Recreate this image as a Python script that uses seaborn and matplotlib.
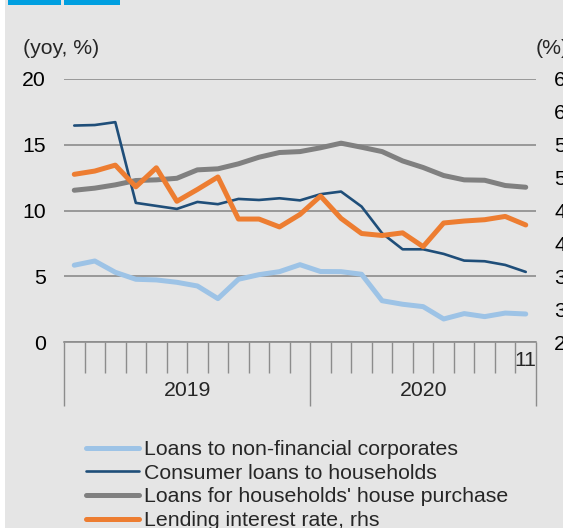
import numpy as np
import pandas as pd
import matplotlib
matplotlib.use("Agg")
import matplotlib.pyplot as plt
import matplotlib.transforms as mtransforms
from matplotlib.patches import Rectangle
from matplotlib.lines import Line2D
import seaborn as sns

# ---- data (Jan 2019 .. Nov 2020) ----
months = [f"2019-{m:02d}" for m in range(1, 13)] + [f"2020-{m:02d}" for m in range(1, 12)]
corporates = [5.84, 6.16, 5.30, 4.77, 4.72, 4.54, 4.26, 3.30, 4.77, 5.12, 5.35, 5.88,
              5.36, 5.35, 5.15, 3.14, 2.87, 2.69, 1.75, 2.16, 1.93, 2.20, 2.13]
consumer = [16.46, 16.50, 16.72, 10.58, 10.35, 10.12, 10.65, 10.48, 10.88, 10.80, 10.93, 10.77,
            11.24, 11.44, 10.30, 8.27, 7.05, 7.05, 6.70, 6.19, 6.14, 5.86, 5.33]
house = [11.54, 11.70, 11.95, 12.28, 12.33, 12.45, 13.09, 13.17, 13.55, 14.05, 14.41, 14.48,
         14.77, 15.12, 14.81, 14.48, 13.77, 13.27, 12.66, 12.33, 12.30, 11.90, 11.77]
rate = [5.05, 5.10, 5.19, 4.86, 5.15, 4.64, 4.82, 5.01, 4.37, 4.37, 4.25, 4.44,
        4.72, 4.38, 4.15, 4.12, 4.16, 3.95, 4.31, 4.34, 4.36, 4.41, 4.28]
left_ticks = [0, 5, 10, 15, 20]
right_ticks = [2.5, 3.0, 3.5, 4.0, 4.5, 5.0, 5.5, 6.0, 6.5]
year_labels = ["2019", "2020"]
last_label = "11"
names = ["Loans to non-financial corporates", "Consumer loans to households",
         "Loans for households' house purchase", "Lending interest rate, rhs"]

df = pd.DataFrame({"month": months, "idx": np.arange(len(months)),
                   "corp": corporates, "cons": consumer, "house": house, "rate": rate})

sns.set_theme(style="white")
plt.rcParams["font.family"] = ["Liberation Sans", "DejaVu Sans"]

W, H, DPI = 563, 528, 100
fig = plt.figure(figsize=(W / DPI, H / DPI), dpi=DPI, facecolor="white")
fig.patches.append(Rectangle((5 / W, 0), 1, 1, transform=fig.transFigure,
                             facecolor="#e5e5e5", edgecolor="none", zorder=-10))
fig.patches.append(Rectangle((8 / W, 1 - 5 / H), 53 / W, 5 / H, transform=fig.transFigure,
                             facecolor="#009fe0", edgecolor="none", zorder=-5))
fig.patches.append(Rectangle((64 / W, 1 - 5 / H), 56 / W, 5 / H, transform=fig.transFigure,
                             facecolor="#009fe0", edgecolor="none", zorder=-5))

ax = fig.add_axes([64 / W, 1 - 342 / H, 472 / W, 263 / H])
ax.set_facecolor("none")
ax2 = ax.twinx()
ax2.set_facecolor("none")

c_corp, c_cons, c_house, c_rate = "#9dc3e6", "#1f4e79", "#808080", "#ed7d31"
grid_c = "#8c8c8c"
FS = 15.3

sns.lineplot(data=df, x="idx", y="corp", ax=ax, color=c_corp, lw=3.6, legend=False)
sns.lineplot(data=df, x="idx", y="cons", ax=ax, color=c_cons, lw=1.9, legend=False)
sns.lineplot(data=df, x="idx", y="house", ax=ax, color=c_house, lw=3.6, legend=False)
sns.lineplot(data=df, x="idx", y="rate", ax=ax2, color=c_rate, lw=3.6, legend=False)

n = len(months)
for a in (ax, ax2):
    a.set_xlim(-0.5, n - 0.5)
    a.set_xlabel("")
    a.set_ylabel("")
    for s in a.spines.values():
        s.set_visible(False)

ax.set_ylim(0, 20)
ax2.set_ylim(2.5, 6.5)
ax.set_yticks(left_ticks)
ax.set_yticklabels([str(t) for t in left_ticks])
ax2.set_yticks(right_ticks)
ax2.set_yticklabels([f"{t:.1f}" for t in right_ticks])
ax.tick_params(axis="y", length=0, pad=13, labelsize=FS, labelcolor="black")
ax2.tick_params(axis="y", length=0, pad=13, labelsize=FS, labelcolor="black")
ax.yaxis.grid(True, color=grid_c, lw=1.2)
ax.set_axisbelow(True)
ax.spines["bottom"].set_visible(True)
ax.spines["bottom"].set_color(grid_c)
ax.spines["bottom"].set_linewidth(1.2)

ax.set_xticks([-0.5, 11.5, n - 0.5])
ax.set_xticks(np.arange(-0.5, n, 1.0), minor=True)
ax.tick_params(axis="x", which="major", bottom=True, direction="out", length=46, width=1,
               color=grid_c, labelbottom=False)
ax.tick_params(axis="x", which="minor", bottom=True, direction="out", length=22, width=1,
               color=grid_c, labelbottom=False)
ax2.tick_params(axis="x", which="both", bottom=False, top=False, labelbottom=False, labeltop=False)

tr = mtransforms.blended_transform_factory(ax.transData, fig.transFigure)
ax.text(5.5, 1 - 391 / H, year_labels[0], transform=tr, ha="center", va="center", fontsize=FS)
ax.text(17.0, 1 - 391 / H, year_labels[1], transform=tr, ha="center", va="center", fontsize=FS)
ax.text(n - 1, 1 - 361 / H, last_label, transform=tr, ha="center", va="center", fontsize=FS)

fig.text(23 / W, 1 - 48 / H, "(yoy, %)", ha="left", va="center", fontsize=FS)
fig.text(536 / W, 1 - 48 / H, "(%)", ha="left", va="center", fontsize=FS)

handles = [Line2D([], [], color=c_corp, lw=3.6),
           Line2D([], [], color=c_cons, lw=1.9),
           Line2D([], [], color=c_house, lw=3.6),
           Line2D([], [], color=c_rate, lw=3.6)]
fig.legend(handles, names, loc="upper left", bbox_to_anchor=(86 / W, 1 - 440 / H),
           frameon=False, fontsize=FS, handlelength=2.5, handletextpad=0.25,
           labelspacing=0.22, borderpad=0, borderaxespad=0)

fig.savefig("out.png", dpi=DPI, facecolor="white")
